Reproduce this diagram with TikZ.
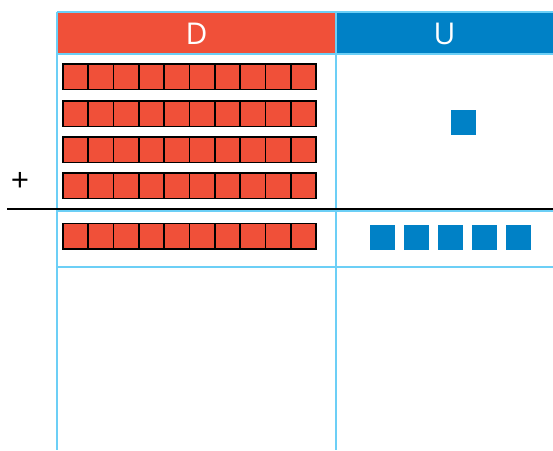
\documentclass[tikz,border=0pt]{standalone}
\usepackage{fontspec}
\setmainfont{Open Sans}
\definecolor{dred}{HTML}{F05039}
\definecolor{ublue}{HTML}{0081C6}
\definecolor{grid}{HTML}{6CCFF6}
\tikzset{
  cell/.style={fill=dred, draw=black, line width=1.7pt},
  unit/.style={fill=ublue, draw=none},
  gridline/.style={draw=grid, line width=1.8pt},
  headtext/.style={text=white, font=\fontsize{30}{30}\selectfont},
}
\begin{document}
\begin{tikzpicture}[x=1pt,y=-1pt]
\useasboundingbox (0,0) rectangle (553,450);
% headers
\fill[dred] (57,12) rectangle (336,54);
\fill[ublue] (336,12) rectangle (553,54);
\node[headtext] (hd) at (196.5,34) {D};
\node[headtext] (hu) at (444.5,34) {U};
% grid
\draw[gridline] (57,12) -- (553,12);
\draw[gridline] (57,54) -- (553,54);
\draw[gridline] (57,211) -- (553,211);
\draw[gridline] (57,267) -- (553,267);
\draw[gridline] (57,12) -- (57,450);
\draw[gridline] (336,12) -- (336,450);
% bars of ten
\foreach \y in {64,101,137,173,223.5}{
  \foreach \i in {0,...,9}{
    \draw[cell] (63+\i*25.3,\y) rectangle ++(25.3,25.5);
  }
}
% units
\fill[unit] (451,110) rectangle ++(25,25);
\foreach \x in {370,404,438,472,506}{
  \fill[unit] (\x,225) rectangle ++(25,25);
}
% plus and rule
\node[font=\fontsize{32}{32}\selectfont] (plus) at (20,181.5) {+};
\draw[black, line width=2pt] (7,209) -- (553,209);
\end{tikzpicture}
\end{document}
